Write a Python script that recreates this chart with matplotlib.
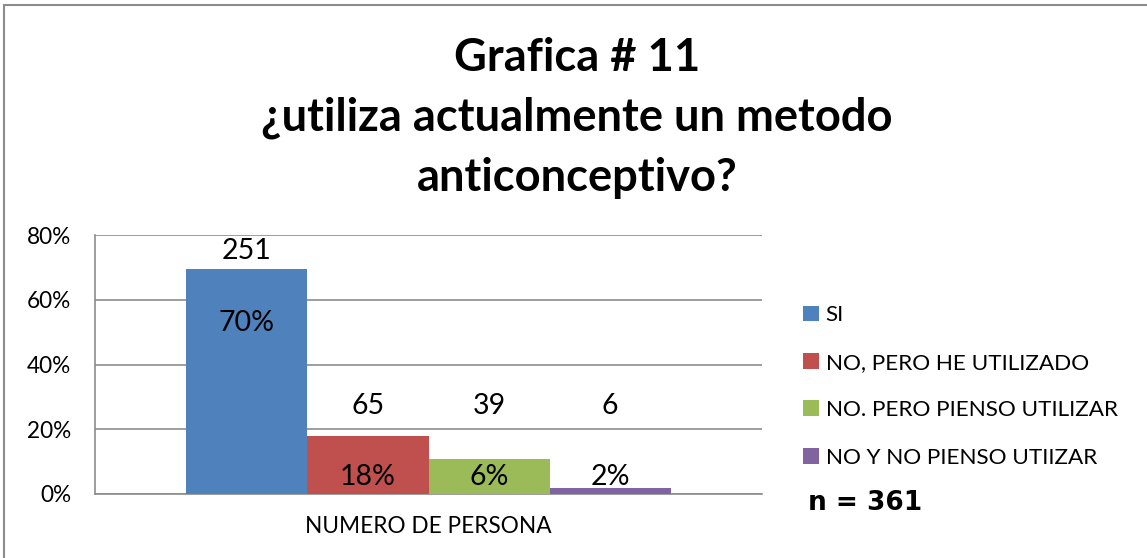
import matplotlib.pyplot as plt
from matplotlib.patches import Rectangle

# data
categories = ['SI', 'NO, PERO HE UTILIZADO', 'NO. PERO PIENSO UTILIZAR', 'NO Y NO PIENSO UTIIZAR']
percent = [69.5, 18.0, 10.8, 1.7]
counts = [251, 65, 39, 6]
pct_labels = ['70%', '18%', '6%', '2%']
colors = ['#4f81bd', '#c0504d', '#9bbb59', '#8064a2']
yticks = [0, 20, 40, 60, 80]

plt.rcParams['font.family'] = ['Lato', 'DejaVu Sans']

fig = plt.figure(figsize=(11.47, 5.58), dpi=100)
ax = fig.add_axes([95 / 1147, 1 - 494 / 558, 667 / 1147, 259 / 558])

pos = [-1.5, -0.5, 0.5, 1.5]
bars = ax.bar(pos, percent, width=1.0, color=colors, label=categories, zorder=3)

for x, v, c, p in zip(pos, percent, counts, pct_labels):
    ax.text(x, max(v + 5.5, 27.2), str(c), ha='center', va='center', fontsize=20.5)
    ax.text(x, max(v - 16.7, 5.3), p, ha='center', va='center', fontsize=20.5)

ax.set_xlim(-2.756, 2.756)
ax.set_ylim(0, 80)
ax.set_yticks(yticks)
ax.set_yticklabels([f'{t}%' for t in yticks], fontsize=16.3)
ax.set_xticks([0])
ax.set_xticklabels(['NUMERO DE PERSONA'], fontsize=16.3)
ax.tick_params(axis='y', length=0, pad=17)
ax.tick_params(axis='x', length=0, pad=16)
ax.grid(axis='y', color='#8c8c8c', linewidth=1.2, zorder=0)
for s in ['top', 'right']:
    ax.spines[s].set_visible(False)
for s in ['left', 'bottom']:
    ax.spines[s].set_color('#8c8c8c')
    ax.spines[s].set_linewidth(1.2)

leg = fig.legend(handles=bars, labels=categories, loc='upper left',
                 bbox_to_anchor=(783 / 1147, 1 - 285 / 558), frameon=False,
                 fontsize=16.2, handlelength=0.7, handleheight=0.7,
                 handletextpad=0.3, labelspacing=1.22)

fig.text(808 / 1147, 1 - 503 / 558, 'n = 361', fontsize=19, fontweight='bold',
         family='DejaVu Sans', va='center', ha='left')

fig.text(577 / 1147, 1 - 58 / 558, 'Grafica # 11', ha='center', va='center',
         fontsize=32.6, fontweight='bold')
fig.text(577 / 1147, 1 - 118 / 558, '¿utiliza actualmente un metodo', ha='center',
         va='center', fontsize=32.6, fontweight='bold')
fig.text(577 / 1147, 1 - 178 / 558, 'anticonceptivo?', ha='center', va='center',
         fontsize=32.6, fontweight='bold')

fig.patches.append(Rectangle((4 / 1147, -0.1), 1.2, 1.1 - 5 / 558, transform=fig.transFigure,
                             fill=False, edgecolor='#8c8c8c', linewidth=1.5))

fig.savefig('out.png', dpi=100)
